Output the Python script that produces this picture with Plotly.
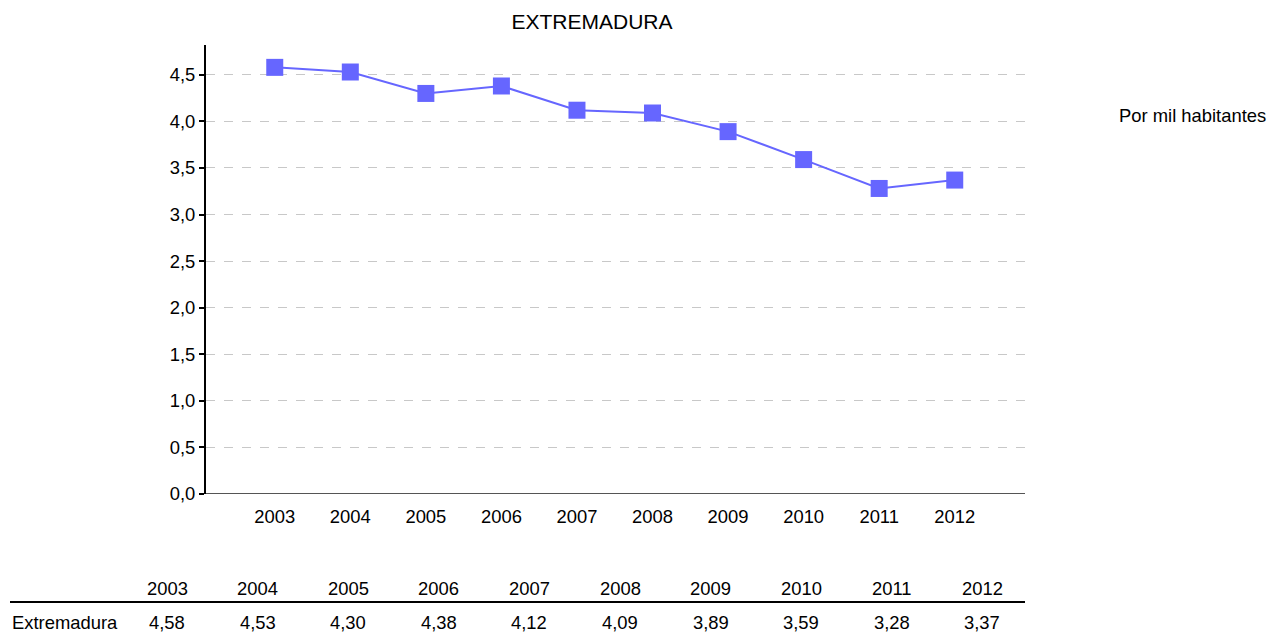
import plotly.graph_objects as go

years = [2003, 2004, 2005, 2006, 2007, 2008, 2009, 2010, 2011, 2012]
extremadura = [4.58, 4.53, 4.30, 4.38, 4.12, 4.09, 3.89, 3.59, 3.28, 3.37]
y_ticks = [0, 0.5, 1, 1.5, 2, 2.5, 3, 3.5, 4, 4.5]
region_name = 'Extremadura'

W, H = 1272, 638
left, right, top, bottom = 206, 1025, 45, 494
font = 'Liberation Sans, Arial, sans-serif'
fs = 18.4


def px(x):
    # pixel -> paper x
    return (x - left) / (right - left)


def py(y):
    return (bottom - y) / (bottom - top)


fig = go.Figure()

fig.add_trace(go.Scatter(
    x=years, y=extremadura, mode='lines+markers', name=region_name,
    line=dict(color='#6666ff', width=2),
    marker=dict(symbol='square', size=17, color='#6666ff'),
    showlegend=False,
))

anns = []
# tabla de datos bajo el grafico
for i, (yr, v) in enumerate(zip(years, extremadura)):
    cx = 167 + i * 90.6
    anns.append(dict(x=px(cx), y=py(588), xref='paper', yref='paper', text=str(yr),
                     showarrow=False, xanchor='center', yanchor='middle',
                     font=dict(size=fs, color='#000')))
    anns.append(dict(x=px(cx), y=py(622), xref='paper', yref='paper',
                     text=f'{v:.2f}'.replace('.', ','),
                     showarrow=False, xanchor='center', yanchor='middle',
                     font=dict(size=fs, color='#000')))
anns.append(dict(x=px(10), y=py(622), xref='paper', yref='paper', text=region_name,
                 showarrow=False, xanchor='left', yanchor='middle',
                 font=dict(size=fs, color='#000')))
anns.append(dict(x=px(1268), y=py(116), xref='paper', yref='paper', text='Por mil habitantes',
                 showarrow=False, xanchor='right', yanchor='middle',
                 font=dict(size=fs, color='#000')))

fig.update_layout(
    width=W, height=H,
    margin=dict(l=left, r=W - right, t=top, b=H - bottom),
    paper_bgcolor='white', plot_bgcolor='white',
    font=dict(family=font, size=fs, color='#000'),
    separators=',.',
    title=dict(text='EXTREMADURA', x=592 / W, xanchor='center', xref='container',
               y=1 - 22 / H, yref='container', yanchor='middle',
               font=dict(size=21, color='#000')),
    xaxis=dict(range=[2002.09, 2012.93], tickvals=years, showgrid=False,
               zeroline=False, showline=False, ticks='outside', ticklen=6,
               tickcolor='rgba(0,0,0,0)', tickfont=dict(size=fs)),
    yaxis=dict(range=[0, 4.82], tickvals=y_ticks, tickformat='.1f',
               showgrid=True, gridcolor='#c8c8c8', griddash='dash', gridwidth=1,
               zeroline=False, showline=True, linecolor='#000', linewidth=2,
               ticks='outside', ticklen=5, tickwidth=2, tickcolor='#000',
               tickfont=dict(size=fs)),
    annotations=anns,
    shapes=[
        dict(type='line', xref='paper', yref='y', x0=0, x1=1, y0=0, y1=0,
             line=dict(color='#555', width=2)),
        dict(type='line', xref='paper', yref='paper', x0=px(10), x1=1, y0=py(602), y1=py(602),
             line=dict(color='#000', width=2)),
    ],
)

fig.write_html('out.html', config={'displayModeBar': False},
               post_script="document.body.style.margin='0';")
